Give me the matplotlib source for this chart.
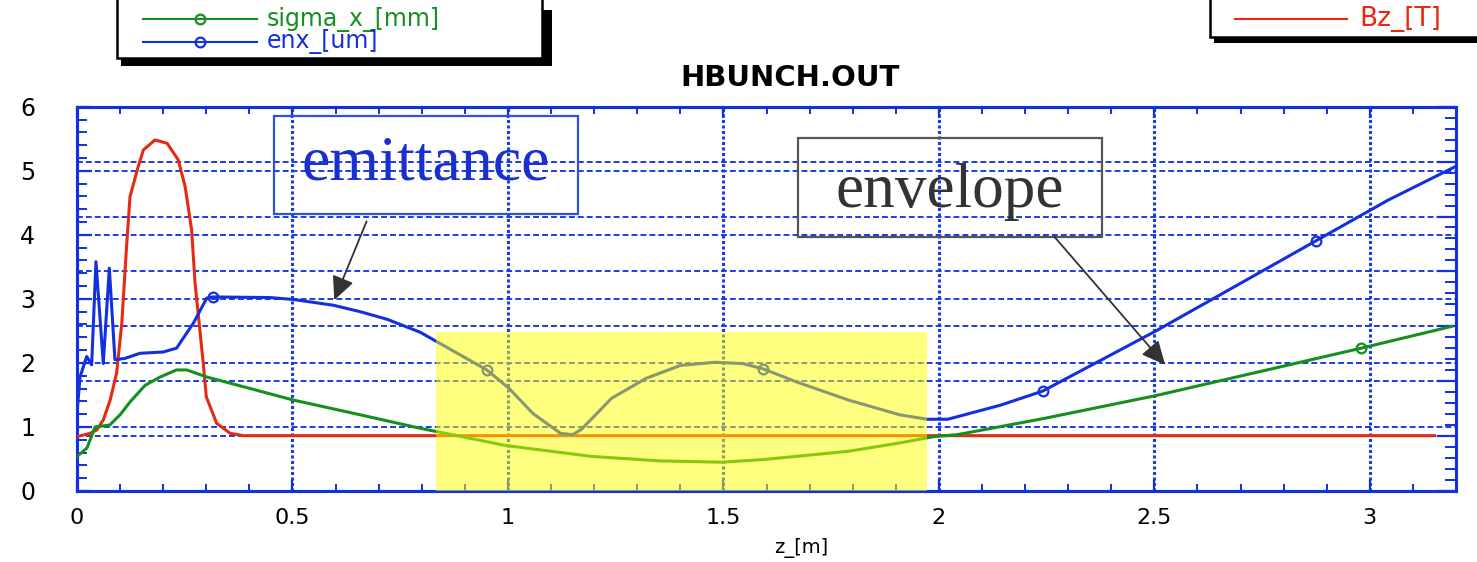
import matplotlib.pyplot as plt
from matplotlib.patches import Rectangle
from matplotlib.lines import Line2D
from matplotlib.ticker import MultipleLocator
from matplotlib.transforms import Affine2D

# normalized emittance enx [um] along z [m]
z_enx = [0.0, 0.007, 0.0225, 0.034, 0.044, 0.061, 0.075, 0.088, 0.111, 0.146,
         0.2, 0.231, 0.27, 0.301, 0.316, 0.448, 0.502, 0.595, 0.657, 0.72,
         0.796, 0.951, 1.003, 1.058, 1.122, 1.15, 1.17, 1.241, 1.321, 1.40,
         1.48, 1.544, 1.591, 1.671, 1.79, 1.909, 1.973, 2.02, 2.043, 2.143,
         2.241, 2.504, 2.876, 3.042, 3.2]
enx = [1.21, 1.78, 2.10, 1.97, 3.58, 1.99, 3.48, 2.05, 2.07, 2.15,
       2.17, 2.23, 2.62, 3.01, 3.03, 3.02, 2.99, 2.90, 2.80, 2.68,
       2.48, 1.89, 1.60, 1.21, 0.90, 0.88, 0.96, 1.45, 1.76, 1.96,
       2.01, 1.99, 1.91, 1.70, 1.42, 1.19, 1.12, 1.12, 1.16, 1.34,
       1.56, 2.50, 3.91, 4.54, 5.07]
enx_marks = [14, 21, 32, 40, 42]

# rms beam size sigma_x [mm]
z_sig = [0.0, 0.023, 0.042, 0.076, 0.1, 0.123, 0.158, 0.193, 0.231, 0.255,
         0.301, 0.385, 0.502, 0.657, 0.796, 0.995, 1.194, 1.353, 1.496, 1.591,
         1.79, 1.909, 1.989, 2.043, 2.242, 2.504, 2.98, 3.19]
sigma_x = [0.54, 0.67, 1.0, 1.03, 1.19, 1.39, 1.65, 1.78, 1.89, 1.89,
           1.78, 1.63, 1.42, 1.19, 0.98, 0.71, 0.54, 0.47, 0.45, 0.49,
           0.62, 0.75, 0.85, 0.88, 1.13, 1.49, 2.23, 2.57]
sig_marks = [26]

# solenoid field Bz [T]
z_bz = [0.0, 0.031, 0.046, 0.061, 0.077, 0.092, 0.104, 0.115, 0.123, 0.142,
        0.154, 0.181, 0.209, 0.235, 0.251, 0.266, 0.274, 0.293, 0.3, 0.324,
        0.355, 0.386, 3.15]
bz = [0.0495, 0.0526, 0.0556, 0.0647, 0.0829, 0.1075, 0.153, 0.2225, 0.268, 0.2954,
      0.3106, 0.3197, 0.3167, 0.3015, 0.2771, 0.2377, 0.1892, 0.1163, 0.0859, 0.0617,
      0.0526, 0.0504, 0.0504]

# highlighted drift region
hl_z = [0.832, 1.973]
hl_top = 2.48

W, H = 1477, 562
BLUE = '#1230dd'
GREEN = '#15901f'
RED = '#e52a10'
GRID = '#1a3be8'

plt.rcParams['font.family'] = 'DejaVu Sans'

fig = plt.figure(figsize=(W / 100, H / 100), dpi=100)
# pixel coordinates, origin at top-left
pix = Affine2D().scale(1 / W, -1 / H).translate(0, 1) + fig.transFigure

ax = fig.add_axes([77 / W, 1 - 491 / H, (1456 - 77) / W, (491 - 106.7) / H])
ax2 = ax.twinx()

ax.set_xlim(0, 3.2)
ax.set_ylim(0, 6)
ax2.set_ylim(0, 0.35)

ax.xaxis.set_major_locator(MultipleLocator(0.5))
ax.xaxis.set_minor_locator(MultipleLocator(0.1))
ax.yaxis.set_major_locator(MultipleLocator(1))
ax.yaxis.set_minor_locator(MultipleLocator(0.2))
ax2.yaxis.set_major_locator(MultipleLocator(0.05))
ax2.yaxis.set_minor_locator(MultipleLocator(0.01))
ax.set_xticks([0, 0.5, 1, 1.5, 2, 2.5, 3])
ax.set_xticklabels(['0', '0.5', '1', '1.5', '2', '2.5', '3'])
ax2.set_yticklabels([])

ax.xaxis.grid(True, color=GRID, linestyle=(0, (1, 0.8)), lw=2.2)
ax.yaxis.grid(True, color=GRID, linestyle=(0, (3, 1.6)), lw=1.4)
ax2.yaxis.grid(True, color=GRID, linestyle=(0, (3, 1.6)), lw=1.4)

for a in (ax, ax2):
    for s in a.spines.values():
        s.set_color(BLUE)
        s.set_linewidth(2.2)

ax.tick_params(axis='x', which='major', direction='in', length=8, width=1.6,
               color=BLUE, top=True, labelsize=16, pad=12)
ax.tick_params(axis='x', which='minor', direction='in', length=5, width=1.4,
               color=BLUE, top=True)
ax.tick_params(axis='y', which='major', direction='in', length=11, width=1.6,
               color=BLUE, right=False, labelsize=17, pad=30)
ax.tick_params(axis='y', which='minor', direction='in', length=7, width=1.4,
               color=BLUE, right=False)
ax2.tick_params(axis='y', which='major', direction='in', length=14, width=1.6,
                color=BLUE, left=False)
ax2.tick_params(axis='y', which='minor', direction='in', length=8, width=1.4,
                color=BLUE, left=False)

# curves on the front axes so that both grids stay underneath
ax2.plot(z_bz, bz, color=RED, lw=2.2, zorder=3)
ax2.plot(z_sig, sigma_x, color=GREEN, lw=2.2, marker='o', markevery=sig_marks,
         ms=7, mfc='none', mew=1.6, transform=ax.transData, zorder=4)
ax2.plot(z_enx, enx, color=BLUE, lw=2.2, marker='o', markevery=enx_marks,
         ms=7, mfc='none', mew=1.6, transform=ax.transData, zorder=5)

ax2.add_patch(Rectangle((hl_z[0], 0), hl_z[1] - hl_z[0], hl_top,
                        transform=ax.transData, facecolor='#ffff00',
                        alpha=0.5, lw=0, zorder=10))

# labelled boxes with arrows
ax2.add_patch(Rectangle((0.458, 4.33), 0.704, 1.52, transform=ax.transData,
                        fill=False, edgecolor='#3050e0', lw=1.6, zorder=11))
ax2.text(0.81, 4.86, 'emittance', transform=ax.transData, ha='center',
         va='baseline', fontsize=46, family='Liberation Serif',
         color='#1a2fd0', zorder=12)
ax2.add_patch(Rectangle((1.672, 3.97), 0.707, 1.54, transform=ax.transData,
                        fill=False, edgecolor='#555555', lw=1.6, zorder=11))
ax2.text(2.025, 4.43, 'envelope', transform=ax.transData, ha='center',
         va='baseline', fontsize=45.5, family='Liberation Serif',
         color='#333333', zorder=12)

arrow = dict(arrowstyle='-|>,head_length=0.72,head_width=0.34',
             mutation_scale=20, color='#333333', lw=1.3,
             shrinkA=0, shrinkB=0)
ax2.annotate('', xy=(0.597, 2.98), xytext=(0.672, 4.21),
             xycoords=ax.transData, textcoords=ax.transData,
             arrowprops=arrow, zorder=12)
ax2.annotate('', xy=(2.525, 1.97), xytext=(2.268, 3.97),
             xycoords=ax.transData, textcoords=ax.transData,
             arrowprops=arrow, zorder=12)

fig.text(790, 78, 'HBUNCH.OUT', transform=pix, ha='center', va='center',
         fontsize=21, fontweight='bold')
fig.text(801, 548, 'z_[m]', transform=pix, ha='center', va='center',
         fontsize=14)

# legend boxes with drop shadows
fig.add_artist(Rectangle((121, 10), 431, 56, transform=pix,
                         facecolor='black', lw=0))
fig.add_artist(Rectangle((117, -4), 425, 62, transform=pix,
                         facecolor='white', edgecolor='black', lw=1.8))
fig.add_artist(Line2D([143, 200, 257], [19, 19, 19], transform=pix, color=GREEN,
                      lw=1.5, marker='o', markevery=[1], ms=7, mfc='none', mew=1.6))
fig.add_artist(Line2D([143, 200, 257], [42, 42, 42], transform=pix, color=BLUE,
                      lw=1.5, marker='o', markevery=[1], ms=7, mfc='none', mew=1.6))
fig.text(267, 19, 'sigma_x_[mm]', transform=pix, ha='left', va='center',
         fontsize=17, color=GREEN)
fig.text(267, 42, 'enx_[um]', transform=pix, ha='left', va='center',
         fontsize=17, color=BLUE)

fig.add_artist(Rectangle((1214, 10), 300, 33, transform=pix,
                         facecolor='black', lw=0))
fig.add_artist(Rectangle((1210, -4), 300, 41, transform=pix,
                         facecolor='white', edgecolor='black', lw=1.8))
fig.add_artist(Line2D([1235, 1347], [19, 19], transform=pix, color=RED, lw=1.5))
fig.text(1359, 19, 'Bz_[T]', transform=pix, ha='left', va='center',
         fontsize=19, color=RED)

plt.savefig('out.png', dpi=100)
